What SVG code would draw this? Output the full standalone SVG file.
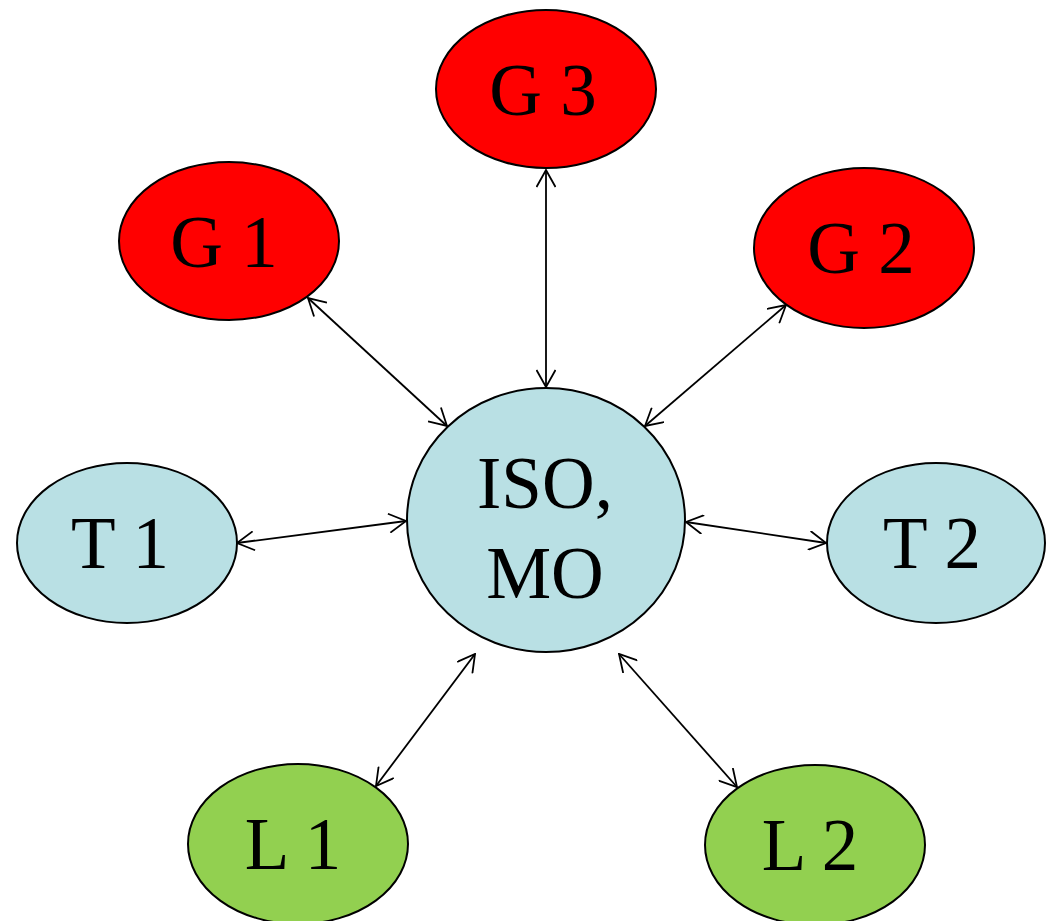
<svg xmlns="http://www.w3.org/2000/svg" width="1046" height="921" viewBox="0 0 1046 921">
<defs>
<style>
.n{stroke:#000;stroke-width:2}
.r{fill:#FF0000}
.b{fill:#B9E0E4}
.g{fill:#92D050}
.t{font-family:"Liberation Serif","Times New Roman",serif;font-size:73px;fill:#000;text-anchor:middle}
.c{stroke:#000;stroke-width:1.8;fill:none;marker-start:url(#ah);marker-end:url(#ah)}
</style>
<marker id="ah" viewBox="0 0 20 20" refX="19" refY="10" markerWidth="20" markerHeight="20" markerUnits="userSpaceOnUse" orient="auto-start-reverse">
<path d="M2,0.5 L19,10 L2,19.5" fill="none" stroke="#000" stroke-width="1.8"/>
</marker>
</defs>
<rect width="1046" height="921" fill="#fff"/>
<g id="connectors">
<path class="c" d="M546,170 L546,387"/>
<path class="c" d="M308,298 L447,426"/>
<path class="c" d="M786,305 L645,426"/>
<path class="c" d="M237,543 L406,521"/>
<path class="c" d="M686,522 L826,543"/>
<path class="c" d="M475,654 L376,786"/>
<path class="c" d="M619,654 L737,787"/>
</g>
<g id="iso">
<ellipse class="n b" cx="546" cy="520" rx="139" ry="132"/>
<text class="t" x="545" y="508">ISO,</text>
<text class="t" x="545" y="598">MO</text>
</g>
<g id="g3">
<ellipse class="n r" cx="546" cy="89" rx="110" ry="79"/>
<text class="t" x="543" y="115">G 3</text>
</g>
<g id="g1">
<ellipse class="n r" cx="229" cy="241" rx="110" ry="79"/>
<text class="t" x="224" y="267">G 1</text>
</g>
<g id="g2">
<ellipse class="n r" cx="864" cy="248" rx="110" ry="80"/>
<text class="t" x="861" y="273">G 2</text>
</g>
<g id="t1">
<ellipse class="n b" cx="127" cy="543" rx="110" ry="80"/>
<text class="t" x="120" y="568">T 1</text>
</g>
<g id="t2">
<ellipse class="n b" cx="936" cy="543" rx="109" ry="80"/>
<text class="t" x="932" y="568">T 2</text>
</g>
<g id="l1">
<ellipse class="n g" cx="298" cy="844" rx="110" ry="80"/>
<text class="t" x="293" y="869">L 1</text>
</g>
<g id="l2">
<ellipse class="n g" cx="815" cy="845" rx="110" ry="80"/>
<text class="t" x="810" y="870">L 2</text>
</g>
</svg>
